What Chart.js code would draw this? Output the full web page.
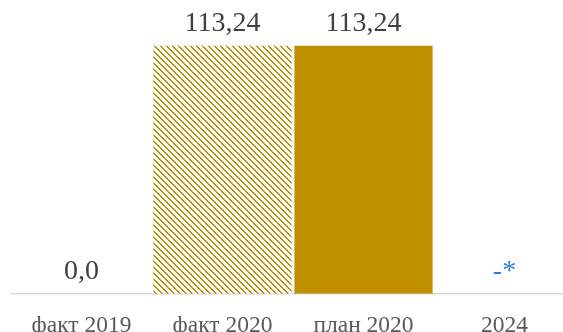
<!DOCTYPE html>
<html lang="ru">
<head>
  <meta charset="UTF-8">
  <title>факт / план</title>
  <script src="https://cdn.jsdelivr.net/npm/chart.js"></script>
  <style>
    html, body { margin:0; padding:0; background:#fff; overflow:hidden; }
    #wrap { width:563px; height:332px; overflow:hidden; }
  </style>
</head>
<body>
<div id="wrap"><canvas id="chart" width="578" height="354"></canvas></div>
<script>
// data
const categories = ['факт 2019', 'факт 2020', 'план 2020', '2024'];
const values = [0, 113.24, 113.24, 0];
const valueLabels = ['0,0', '113,24', '113,24', '-*'];
const labelColors = ['#404040', '#404040', '#404040', '#2E7FCF'];

const gold = '#BF8F00';

// diagonal hatch (top-left -> bottom-right)
function hatch() {
  const c = document.createElement('canvas');
  c.width = 6; c.height = 6;
  const g = c.getContext('2d');
  g.fillStyle = '#fff'; g.fillRect(0, 0, 6, 6);
  g.fillStyle = gold;
  for (let i = 0; i < 6; i++) {
    g.fillRect(i, i, 2, 1);
  }
  g.fillRect(0, 5, 1, 1);
  return g.createPattern(c, 'repeat');
}
const fills = [gold, hatch(), gold, gold];

// value labels above bars
const valuePlugin = {
  id: 'values',
  afterDatasetsDraw(chart) {
    const ctx = chart.ctx;
    const meta = chart.getDatasetMeta(0);
    ctx.save();
    ctx.font = '28px "Liberation Serif", "Times New Roman", serif';
    ctx.textAlign = 'center';
    ctx.textBaseline = 'alphabetic';
    meta.data.forEach((bar, i) => {
      ctx.fillStyle = labelColors[i];
      ctx.fillText(valueLabels[i], bar.x, bar.y - 15);
    });
    ctx.restore();
  }
};

new Chart(document.getElementById('chart'), {
  type: 'bar',
  data: {
    labels: categories,
    datasets: [{
      data: values,
      backgroundColor: fills,
      borderWidth: 0,
      barPercentage: 1,
      categoryPercentage: 0.98
    }]
  },
  options: {
    responsive: false,
    animation: false,
    events: [],
    layout: { padding: { top: 31, left: 11, right: 3, bottom: 4 } },
    plugins: { legend: { display: false }, tooltip: { enabled: false } },
    scales: {
      y: { display: false, min: 0, max: 120 },
      x: {
        grid: { display: false },
        border: { display: true, color: '#D9D9D9', width: 1.5 },
        ticks: {
          color: '#595959',
          padding: 10,
          font: { family: '"Liberation Serif", "Times New Roman", serif', size: 23.5 }
        }
      }
    }
  },
  plugins: [valuePlugin]
});
</script>
</body>
</html>
